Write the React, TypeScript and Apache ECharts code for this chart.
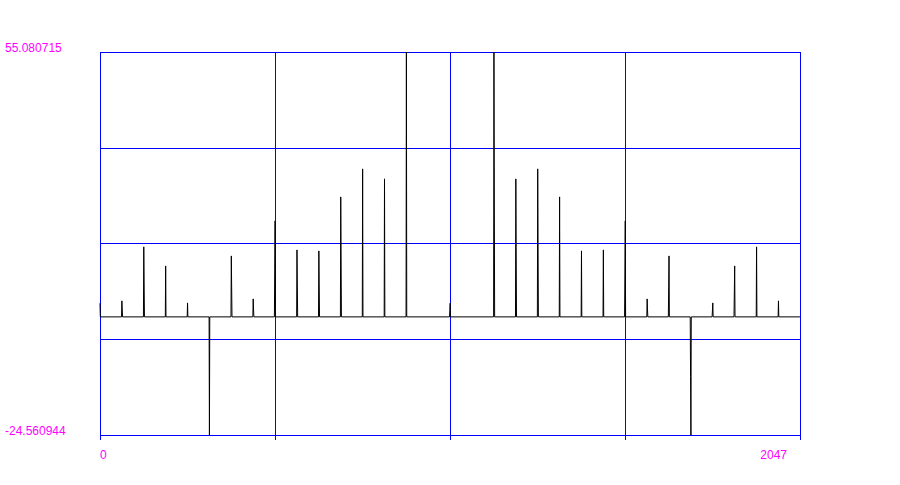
import React, { useEffect, useRef } from "react";
import * as echarts from "echarts";

// Axis ranges and tick labels
const X_MIN = 0;
const X_MAX = 2047;
const Y_MIN = -24.560944;
const Y_MAX = 55.080715;
const xTickValues = [0, 2047];
const xTickLabels = ["0", "2047"];
const yTickValues = [-24.560944, 55.080715];
const yTickLabels = ["-24.560944", "55.080715"];
// grid divisions (4 x 4)
const gridDivisions = [0, 1, 2, 3, 4];

// Non-zero samples of the signal (bin index, value); every other bin is 0
const sampleBins = [
  0, 64, 65, 128, 129, 192, 256, 320, 384, 385, 448, 449, 511, 512, 576, 577,
  640, 641, 704, 705, 768, 832, 896, 1023, 1024, 1152, 1153, 1216, 1217, 1280,
  1281, 1344, 1408, 1472, 1535, 1536, 1600, 1601, 1663, 1664, 1727, 1728, 1791,
  1792, 1855, 1856, 1920, 1984,
];
const sampleValues = [
  2.85, 3.33, 1.66, 14.56, 7.28, 10.6, 2.91, -24.560944, 12.68, 6.24, 3.74,
  1.66, 9.77, 19.96, 13.93, 6.86, 13.72, 6.86, 24.95, 12.48, 30.78, 28.7,
  55.080715, 1.31, 2.85, 55.080715, 27.45, 28.7, 14.35, 30.78, 15.39, 24.95,
  13.72, 13.93, 9.77, 19.96, 3.74, 1.66, 6.24, 12.68, -12.41, -24.560944, 1.46,
  2.91, 5.2, 10.6, 14.56, 3.33,
];

function buildLine(): [number, number][] {
  const pts: [number, number][] = [];
  const n = sampleBins.length;
  if (sampleBins[0] > X_MIN) pts.push([X_MIN, 0]);
  for (let i = 0; i < n; i++) {
    const b = sampleBins[i];
    const prev = i > 0 ? sampleBins[i - 1] : -10;
    if (b - prev > 1 && b > X_MIN) pts.push([b - 1, 0]);
    pts.push([b, sampleValues[i]]);
    const next = i < n - 1 ? sampleBins[i + 1] : X_MAX + 10;
    if (next - b > 1 && b < X_MAX) pts.push([b + 1, 0]);
  }
  if (sampleBins[n - 1] < X_MAX) pts.push([X_MAX, 0]);
  return pts;
}

const MAGENTA = "#ff00ff";
const BLUE = "#0000ff";
const FONT = "Liberation Sans";

function labelFor(values: number[], labels: string[], v: number): string {
  for (let i = 0; i < values.length; i++) {
    if (Math.abs(values[i] - v) < 1e-6) return labels[i];
  }
  return "";
}

export default function App() {
  const ref = useRef<HTMLDivElement>(null);
  useEffect(() => {
    if (!ref.current) return;
    const chart = echarts.init(ref.current, undefined, { renderer: "svg" });
    chart.setOption({
      animation: false,
      backgroundColor: "#ffffff",
      grid: { left: 100, right: 100, top: 52, bottom: 50, containLabel: false },
      xAxis: [
        {
          type: "value",
          min: X_MIN,
          max: X_MAX,
          interval: X_MAX - X_MIN,
          position: "bottom",
          axisLine: { show: false },
          axisTick: { show: false },
          splitLine: { show: false },
          axisLabel: {
            show: true,
            showMinLabel: true,
            showMaxLabel: true,
            formatter: (v: number) => labelFor(xTickValues, xTickLabels, v),
            color: MAGENTA,
            fontFamily: FONT,
            fontSize: 12,
            margin: 14,
            verticalAlign: "top",
            lineHeight: 12,
            alignMinLabel: "left",
            alignMaxLabel: "right",
            padding: [0, 13, 0, 0],
          },
        },
        {
          type: "value",
          min: gridDivisions[0],
          max: gridDivisions[gridDivisions.length - 1],
          interval: 1,
          position: "bottom",
          axisLine: { show: false },
          axisTick: { show: true, length: 5, inside: false, lineStyle: { color: BLUE, width: 1 } },
          axisLabel: { show: false },
          splitLine: { show: true, lineStyle: { color: BLUE, width: 1, type: "solid" } },
        },
      ],
      yAxis: [
        {
          type: "value",
          min: Y_MIN,
          max: Y_MAX,
          position: "left",
          axisLine: { show: false },
          axisTick: { show: false },
          splitLine: { show: false },
          axisLabel: {
            show: true,
            showMinLabel: true,
            showMaxLabel: true,
            formatter: (v: number) => labelFor(yTickValues, yTickLabels, v),
            color: MAGENTA,
            fontFamily: FONT,
            fontSize: 12,
            align: "left",
            margin: 95,
            verticalAlign: "bottom",
            lineHeight: 9,
          },
        },
        {
          type: "value",
          min: gridDivisions[0],
          max: gridDivisions[gridDivisions.length - 1],
          interval: 1,
          position: "left",
          axisLine: { show: false },
          axisTick: { show: false },
          axisLabel: { show: false },
          splitLine: { show: true, lineStyle: { color: BLUE, width: 1, type: "solid" } },
        },
      ],
      series: [
        {
          type: "line",
          xAxisIndex: 0,
          yAxisIndex: 0,
          data: buildLine(),
          showSymbol: false,
          symbol: "none",
          silent: true,
          lineStyle: { color: "#000000", width: 1 },
          z: 5,
        },
      ],
    });
    return () => chart.dispose();
  }, []);
  return (
    <div
      ref={ref}
      style={{ position: "fixed", left: 0, top: 0, width: 900, height: 485, background: "#fff" }}
    />
  );
}
